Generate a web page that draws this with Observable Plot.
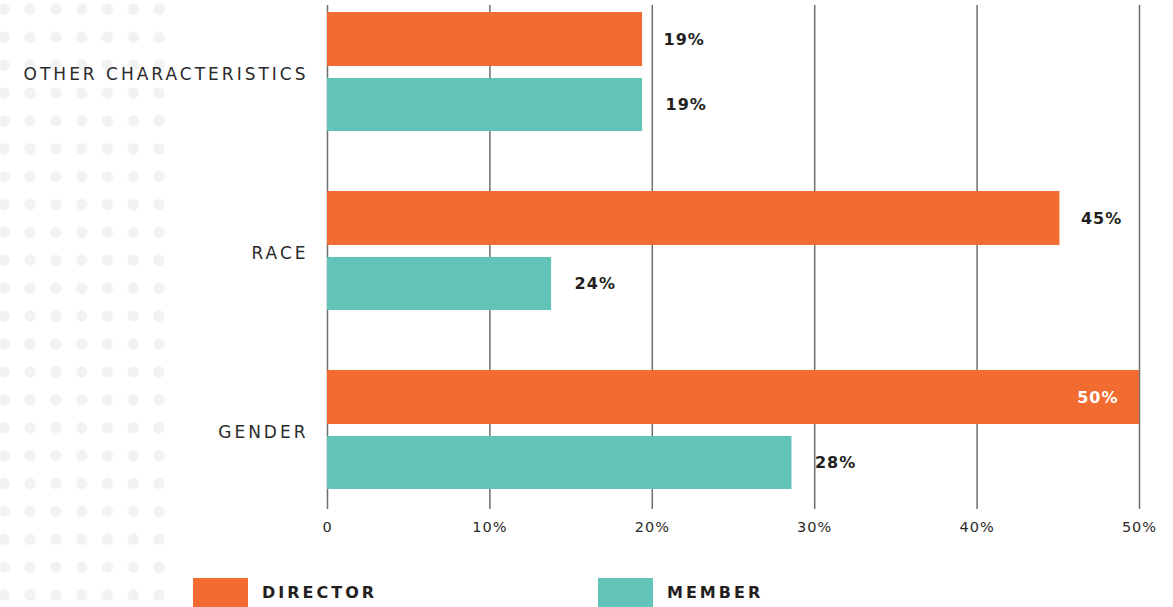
<!DOCTYPE html>
<html>
<head>
<meta charset="utf-8">
<script src="https://cdn.jsdelivr.net/npm/d3@7"></script>
<script src="https://cdn.jsdelivr.net/npm/@observablehq/plot@0.6"></script>
<style>
  html, body { margin: 0; padding: 0; background: #fff; overflow: hidden; }
  body { width: 1173px; height: 607px; position: relative; font-family: "DejaVu Sans", sans-serif; }
  #dots {
    position: absolute; left: 0; top: 0; width: 167px; height: 607px; z-index: 0;
    background-image: radial-gradient(circle, #f1f2f2 5.3px, rgba(255,255,255,0) 6px);
    background-size: 25.8px 27.9px;
    background-position: -8.7px -4.6px;
  }
  #chart { position: relative; z-index: 1; }
  #chart svg { background: transparent; }
  #chart svg text { letter-spacing: 1px; }
  #chart svg [aria-label="y-axis tick label"] text { letter-spacing: 3px; }
  #legend { position: relative; z-index: 1; height: 47px; }
  .key { position: absolute; top: 18px; display: flex; align-items: center; }
  .sw { width: 55px; height: 29px; }
  .kt { margin-left: 14px; font-family: "DejaVu Sans", sans-serif; font-weight: 700; font-size: 16px; letter-spacing: 3px; color: #231f20; }
</style>
</head>
<body>
<div id="dots"></div>
<div id="chart"></div>
<div id="legend"></div>
<script>
const categories = ["OTHER CHARACTERISTICS", "RACE", "GENDER"];
const series = ["Director", "Member"];
const seriesLabels = ["DIRECTOR", "MEMBER"];
const colors = ["#f26c32", "#62c3b9"];
// bar lengths as drawn in the picture (percent)
const directorValues = [19.4, 45.1, 50];
const memberValues = [19.4, 13.8, 28.6];
// printed labels
const directorLabels = ["19%", "45%", "50%"];
const memberLabels = ["19%", "24%", "28%"];
const xTicks = [0, 10, 20, 30, 40, 50];
const xTickLabels = ["0", "10%", "20%", "30%", "40%", "50%"];

const director = categories.map((c, i) => ({category: c, value: directorValues[i], label: directorLabels[i]}));
const member = categories.map((c, i) => ({category: c, value: memberValues[i], label: memberLabels[i]}));
const inside = d => d.value >= 48;

const chart = Plot.plot({
  width: 1173,
  height: 560,
  marginLeft: 327,
  marginRight: 34,
  marginTop: 5,
  marginBottom: 51,
  style: {background: "transparent", fontFamily: "'DejaVu Sans', sans-serif", color: "#231f20"},
  x: {domain: [0, 50], axis: null},
  y: {domain: categories, paddingInner: 1/3, paddingOuter: 0.0667, align: 0.25, axis: null},
  marks: [
    Plot.ruleX(xTicks, {x: d => d, stroke: "#6e6e6e", strokeWidth: 1.5}),
    Plot.barX(director, {x: "value", y: "category", fill: colors[0], insetBottom: 65}),
    Plot.barX(member, {x: "value", y: "category", fill: colors[1], insetTop: 66}),
    Plot.text(director.filter(d => !inside(d)), {
      x: "value", y: "category", text: "label", dy: -32,
      textAnchor: "start", dx: 21, fontSize: 16, fontWeight: 700, fill: "#231f20"
    }),
    Plot.text(director.filter(inside), {
      x: "value", y: "category", text: "label", dy: -32,
      textAnchor: "end", dx: -21, fontSize: 16, fontWeight: 700, fill: "#ffffff"
    }),
    Plot.text(member, {
      x: "value", y: "category", text: "label", dy: 33,
      textAnchor: "start", dx: 23, fontSize: 16, fontWeight: 700, fill: "#231f20"
    }),
    Plot.axisY({anchor: "left", tickSize: 0, tickPadding: 19, fontSize: 17, fontWeight: 400,
      fill: "#2a2a2a", label: null, dy: 3}),
    Plot.axisX({ticks: xTicks, tickFormat: d => xTickLabels[xTicks.indexOf(d)], tickSize: 0,
      tickPadding: 12, fontSize: 14.5, fill: "#2a2a2a", label: null})
  ]
});
document.getElementById("chart").appendChild(chart);

const legend = document.getElementById("legend");
const keyX = [193, 598];
seriesLabels.forEach((s, i) => {
  const k = document.createElement("div");
  k.className = "key";
  k.style.left = keyX[i] + "px";
  k.innerHTML = `<div class="sw" style="background:${colors[i]}"></div><div class="kt">${s}</div>`;
  legend.appendChild(k);
});
</script>
</body>
</html>
